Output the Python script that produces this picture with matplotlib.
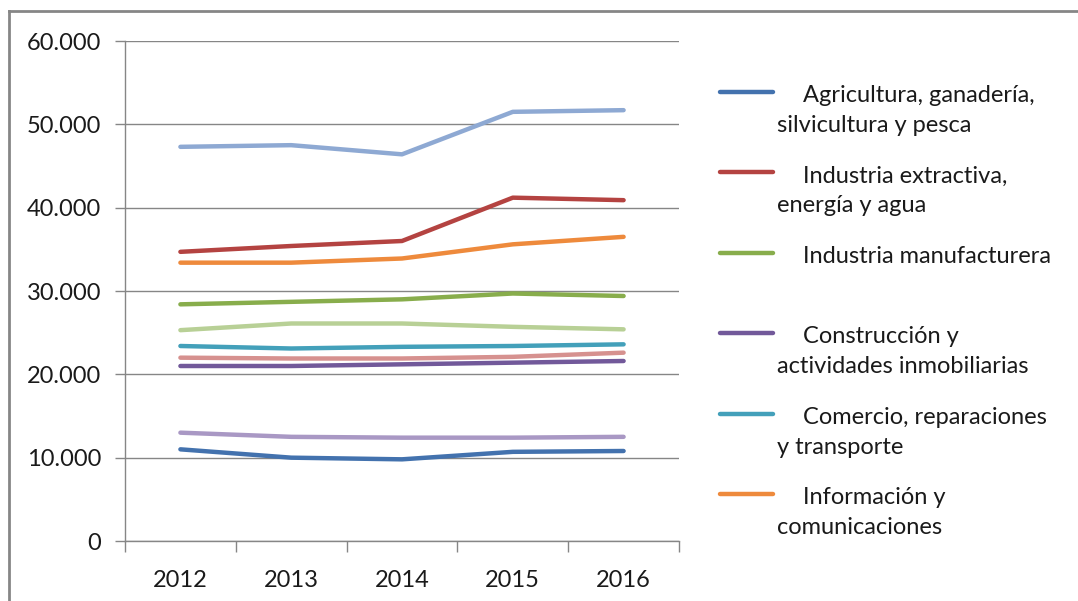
import matplotlib
matplotlib.use("Agg")
import matplotlib.pyplot as plt
from matplotlib.lines import Line2D
from matplotlib.ticker import FuncFormatter

plt.rcParams['font.family'] = ['Lato', 'DejaVu Sans']

years = ['2012', '2013', '2014', '2015', '2016']

agricultura = [11000, 10000, 9800, 10700, 10800]
extractiva = [34700, 35400, 36000, 41200, 40900]
manufacturera = [28400, 28700, 29000, 29700, 29400]
construccion = [21000, 21000, 21200, 21400, 21600]
comercio = [23400, 23100, 23300, 23400, 23600]
informacion = [33400, 33400, 33900, 35600, 36500]
serie7 = [47300, 47500, 46400, 51500, 51700]
serie8 = [22000, 21900, 21900, 22100, 22600]
serie9 = [25300, 26100, 26100, 25700, 25400]
serie10 = [13000, 12500, 12400, 12400, 12500]

series = [agricultura, extractiva, manufacturera, construccion, comercio,
          informacion, serie7, serie8, serie9, serie10]
colors = ['#4372AE', '#B44341', '#88AD4C', '#72599A', '#43A0BA', '#EE8A3C',
          '#8EA9D3', '#D6918F', '#B8D096', '#A998C4']

legend_labels = [
    ('Agricultura, ganadería,', 'silvicultura y pesca'),
    ('Industria extractiva,', 'energía y agua'),
    ('Industria manufacturera', ''),
    ('Construcción y', 'actividades inmobiliarias'),
    ('Comercio, reparaciones', 'y transporte'),
    ('Información y', 'comunicaciones'),
]

W, H = 1078, 601
fs = 17
txt = '#1a1a1a'
fig = plt.figure(figsize=(W / 100, H / 100), dpi=100)
ax = fig.add_axes([125 / W, 1 - 541 / H, (679 - 125) / W, (541 - 41) / H])

x = list(range(len(years)))
for vals, c in zip(series, colors):
    ax.plot(x, vals, color=c, lw=3.2, solid_capstyle='round', solid_joinstyle='round')

gray = '#868686'
ax.set_xlim(-0.5, 4.5)
ax.set_ylim(0, 60000)
ax.set_yticks(range(0, 60001, 10000))
ax.yaxis.set_major_formatter(FuncFormatter(lambda v, p: f"{int(v):,}".replace(',', '.')))
ax.set_xticks(x)
ax.set_xticklabels(years)
ax.set_xticks([i - 0.5 for i in range(6)], minor=True)
ax.tick_params(axis='x', which='major', length=0, pad=21, labelsize=fs, colors=txt)
ax.tick_params(axis='x', which='minor', length=8, color=gray, width=1)
ax.tick_params(axis='y', length=7, color=gray, width=1, pad=10, labelsize=fs, colors=txt)
ax.grid(axis='y', color=gray, lw=1)
ax.set_axisbelow(True)
for s in ['top', 'right']:
    ax.spines[s].set_visible(False)
for s in ['left', 'bottom']:
    ax.spines[s].set_color(gray)
    ax.spines[s].set_linewidth(1)

# outer border (top and left only)
fig.add_artist(Line2D([9 / W, 9 / W], [0, 1 - 11 / H], color=gray, lw=2, transform=fig.transFigure))
fig.add_artist(Line2D([9 / W, 1], [1 - 11 / H, 1 - 11 / H], color=gray, lw=2, transform=fig.transFigure))

# legend
for i, (l1, l2) in enumerate(legend_labels):
    hy = 92 + i * 80.4
    fig.add_artist(Line2D([720 / W, 773 / W], [1 - hy / H, 1 - hy / H], color=colors[i],
                          lw=3.2, solid_capstyle='round', transform=fig.transFigure))
    fig.text(803 / W, 1 - (hy + 10) / H, l1, fontsize=fs, color=txt, va='baseline')
    if l2:
        fig.text(777 / W, 1 - (hy + 40) / H, l2, fontsize=fs, color=txt, va='baseline')

fig.savefig('out.png', dpi=100)
